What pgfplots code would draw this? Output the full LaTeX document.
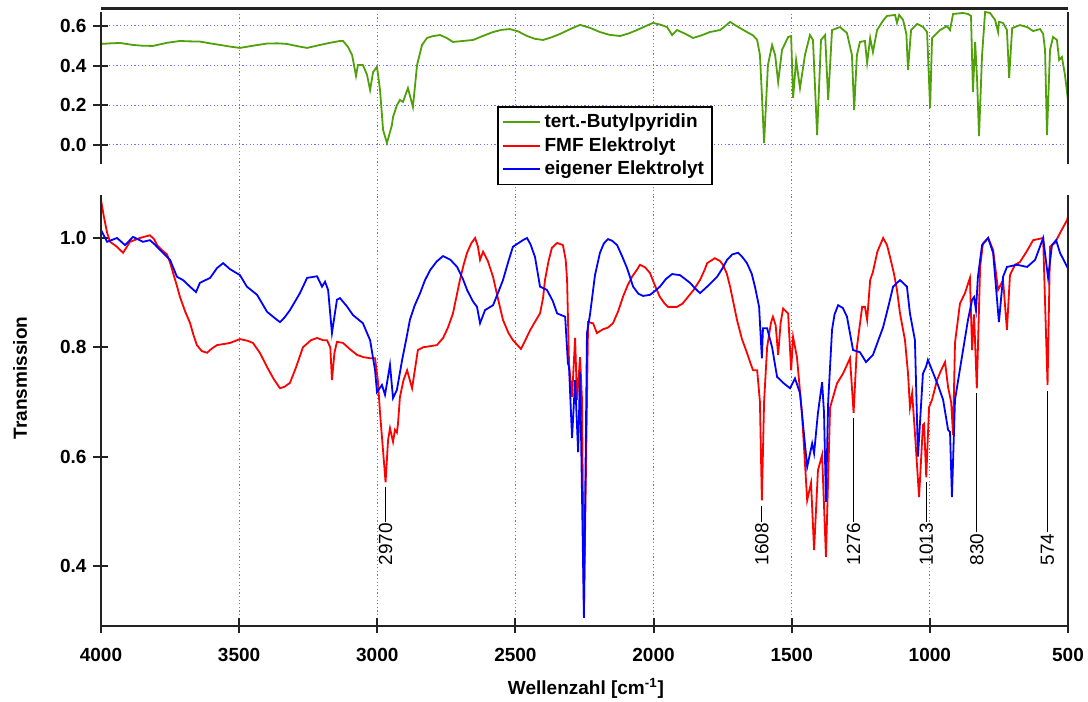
\documentclass[border=0pt]{standalone}
\usepackage{fontspec}
\setmainfont{Liberation Sans}
\usepackage{pgfplots}
\pgfplotsset{compat=1.18}
\definecolor{cgreen}{RGB}{80,160,10}
\definecolor{cgrid}{RGB}{110,110,255}
\definecolor{cspine}{RGB}{35,35,35}
\pgfplotsset{
 common/.style={
  scale only axis, width=483.5pt, x dir=reverse, xmin=500, xmax=4000, clip=false,
  axis line style={draw=none},
  tick align=center, major tick length=7.5pt,
  tick style={cspine, line width=1pt},
  grid style={cgrid, line width=0.5pt, dash pattern=on 0.6pt off 1.2pt},
  /pgf/number format/assume math mode=true,
  ticklabel style={font=\fontsize{9.5}{11}\selectfont\bfseries},
  yticklabel style={/pgf/number format/fixed, /pgf/number format/fixed zerofill, /pgf/number format/precision=1},
  xticklabel style={/pgf/number format/1000 sep={}},
 }
}
\newcommand{\ann}[2]{%
  \node[rotate=90, anchor=west, inner sep=0pt, font=\fontsize{9.5}{11}\selectfont] (a#1) at (axis cs:#1,0.40) {#1};
  \draw[line width=0.5pt] ([yshift=0.5pt]a#1.east) -- (axis cs:#1,#2);
}
\begin{document}
\begin{tikzpicture}
\useasboundingbox (0,0) rectangle (544pt,351pt);
% ---------------- lower panel ----------------
\begin{axis}[common, at={(50.5pt,38pt)}, anchor=south west, height=215.5pt,
  ymin=0.290, ymax=1.0787,
  xtick={500,1000,...,4000}, ytick={0.4,0.6,0.8,1.0},
  xticklabel style={yshift=-4pt},
  xmajorgrids, xtick pos=left, ytick pos=left]
\addplot[red, line width=0.9pt] table {
4000 1.07
3990 1.04
3978 1.01
3967 0.993
3945 0.985
3920 0.973
3905 0.985
3895 0.993
3859 1.0
3823 1.005
3808 0.998
3797 0.987
3780 0.978
3761 0.97
3750 0.955
3739 0.936
3725 0.912
3714 0.892
3695 0.865
3678 0.845
3665 0.822
3653 0.804
3635 0.793
3616 0.79
3598 0.798
3580 0.804
3555 0.806
3533 0.808
3497 0.815
3470 0.812
3450 0.808
3425 0.790
3399 0.764
3375 0.742
3352 0.725
3335 0.728
3316 0.735
3295 0.762
3269 0.80
3240 0.813
3218 0.817
3196 0.813
3182 0.813
3170 0.800
3164 0.74
3155 0.790
3146 0.81
3124 0.808
3100 0.797
3073 0.786
3050 0.782
3026 0.78
3008 0.78
2998 0.74
2990 0.68
2970 0.553
2961 0.63
2954 0.652
2943 0.627
2936 0.649
2929 0.644
2925 0.66
2918 0.709
2905 0.740
2892 0.758
2874 0.725
2853 0.795
2834 0.80
2784 0.804
2762 0.817
2745 0.835
2726 0.862
2701 0.923
2688 0.950
2675 0.973
2660 0.990
2646 1.0
2636 0.985
2628 0.96
2617 0.975
2600 0.958
2581 0.929
2565 0.893
2545 0.85
2525 0.826
2509 0.813
2480 0.797
2465 0.812
2447 0.831
2430 0.846
2411 0.862
2400 0.890
2393 0.923
2380 0.958
2368 0.982
2349 0.991
2328 0.987
2318 0.960
2313 0.923
2306 0.77
2295 0.709
2284 0.817
2277 0.704
2266 0.782
2259 0.704
2252 0.32
2244 0.60
2237 0.846
2219 0.844
2205 0.826
2183 0.833
2165 0.836
2147 0.844
2128 0.866
2111 0.892
2095 0.912
2078 0.929
2060 0.942
2049 0.951
2030 0.946
2013 0.936
1995 0.913
1977 0.892
1960 0.880
1948 0.874
1915 0.874
1895 0.880
1879 0.89
1855 0.905
1832 0.923
1815 0.942
1806 0.954
1778 0.963
1760 0.958
1749 0.951
1735 0.935
1723 0.911
1698 0.85
1680 0.815
1662 0.79
1650 0.772
1640 0.758
1625 0.758
1615 0.70
1608 0.52
1600 0.70
1589 0.80
1575 0.845
1568 0.856
1558 0.840
1549 0.786
1540 0.845
1531 0.871
1513 0.862
1502 0.758
1495 0.819
1481 0.782
1463 0.68
1444 0.52
1430 0.552
1419 0.429
1405 0.575
1390 0.603
1376 0.416
1361 0.69
1336 0.734
1314 0.752
1289 0.78
1276 0.68
1264 0.80
1245 0.874
1235 0.874
1227 0.85
1216 0.923
1206 0.938
1190 0.975
1169 1.0
1155 0.987
1144 0.965
1130 0.935
1119 0.905
1108 0.862
1090 0.813
1079 0.752
1072 0.69
1064 0.716
1054 0.643
1039 0.526
1025 0.658
1021 0.66
1013 0.562
1003 0.69
992 0.704
974 0.74
960 0.757
945 0.773
934 0.727
923 0.70
916 0.64
909 0.808
891 0.88
873 0.899
855 0.927
847 0.795
840 0.86
830 0.725
818 0.947
808 0.99
789 1.0
771 0.978
753 0.905
735 0.923
721 0.832
710 0.932
692 0.951
674 0.956
650 0.975
626 0.996
590 1.0
574 0.731
565 0.984
547 0.991
529 1.009
503 1.033
500 1.04
};
\addplot[blue, line width=0.9pt] table {
4000 1.015
3978 0.993
3942 1.0
3913 0.987
3884 1.002
3848 0.993
3823 0.996
3805 0.988
3786 0.978
3750 0.96
3725 0.929
3703 0.923
3678 0.911
3656 0.901
3642 0.918
3605 0.927
3580 0.945
3558 0.954
3533 0.943
3497 0.932
3472 0.911
3435 0.896
3399 0.865
3375 0.855
3352 0.846
3335 0.855
3316 0.868
3280 0.899
3254 0.927
3218 0.93
3200 0.911
3189 0.92
3178 0.905
3164 0.826
3146 0.887
3135 0.89
3110 0.875
3088 0.859
3052 0.844
3026 0.813
3008 0.758
3001 0.718
2983 0.731
2972 0.713
2954 0.768
2943 0.707
2929 0.722
2910 0.777
2895 0.815
2882 0.85
2865 0.876
2845 0.899
2828 0.922
2809 0.941
2785 0.957
2762 0.967
2735 0.960
2711 0.947
2690 0.925
2675 0.905
2655 0.885
2639 0.874
2628 0.844
2610 0.868
2581 0.877
2565 0.897
2545 0.923
2525 0.958
2509 0.984
2473 0.996
2458 1.0
2445 0.988
2429 0.965
2411 0.911
2386 0.905
2365 0.885
2349 0.862
2320 0.856
2310 0.771
2306 0.764
2295 0.634
2284 0.74
2273 0.608
2266 0.755
2252 0.305
2241 0.826
2230 0.86
2212 0.932
2194 0.973
2180 0.990
2165 0.998
2150 0.995
2132 0.987
2115 0.968
2096 0.945
2074 0.911
2055 0.898
2038 0.894
2013 0.896
1995 0.903
1977 0.911
1955 0.925
1933 0.934
1904 0.932
1868 0.918
1850 0.908
1832 0.899
1806 0.911
1770 0.929
1750 0.945
1734 0.96
1715 0.970
1694 0.973
1680 0.966
1662 0.954
1645 0.935
1633 0.911
1618 0.874
1608 0.78
1604 0.835
1589 0.835
1571 0.80
1553 0.746
1531 0.735
1506 0.725
1488 0.743
1470 0.716
1444 0.581
1426 0.624
1419 0.606
1405 0.68
1390 0.736
1383 0.68
1376 0.517
1368 0.70
1354 0.832
1345 0.860
1332 0.877
1315 0.872
1300 0.856
1278 0.795
1253 0.791
1231 0.773
1206 0.786
1190 0.808
1169 0.837
1150 0.875
1133 0.911
1108 0.923
1083 0.911
1072 0.862
1054 0.813
1043 0.60
1025 0.752
1014 0.764
1007 0.777
992 0.758
970 0.730
952 0.704
934 0.649
927 0.645
920 0.526
909 0.704
884 0.782
862 0.85
847 0.887
840 0.892
833 0.868
826 0.929
811 0.987
789 1.0
771 0.973
750 0.846
735 0.929
721 0.947
684 0.951
648 0.947
619 0.96
590 1.0
572 0.927
558 0.987
543 0.996
529 0.973
503 0.947
500 0.945
};
\draw[cspine, line width=1pt] (rel axis cs:0,1) -- (rel axis cs:0,0) -- (rel axis cs:1,0) -- (rel axis cs:1,1);
\ann{2970}{0.545}
\ann{1608}{0.51}
\ann{1276}{0.67}
\ann{1013}{0.553}
\ann{830}{0.716}
\ann{574}{0.72}
\end{axis}
% ---------------- upper panel ----------------
\begin{axis}[common, at={(50.5pt,253.5pt)}, anchor=south west, height=91.5pt,
  ymin=-0.2519, ymax=0.670,
  xtick={1000,1500,...,3500}, xticklabels={}, xtick style={draw=none},
  ytick={0,0.2,0.4,0.6},
  xmajorgrids, ymajorgrids, ytick pos=left,
  legend style={at={(0.4095,0.4863)}, anchor=north west, draw=black, line width=0.8pt,
    font=\fontsize{9.5}{10.75}\selectfont\bfseries, inner xsep=2pt, inner ysep=1.5pt,
    cells={anchor=west}, row sep=-0.6pt},
  legend image code/.code={\draw[#1, line width=0.9pt] (0pt,0pt) -- (18.5pt,0pt);}]
\addplot[cgreen, line width=0.9pt] table {
4000 0.509
3965 0.512
3931 0.514
3884 0.504
3850 0.500
3812 0.499
3760 0.515
3714 0.524
3680 0.522
3642 0.521
3605 0.512
3569 0.504
3530 0.495
3497 0.489
3450 0.500
3399 0.511
3360 0.512
3327 0.509
3290 0.498
3254 0.489
3207 0.504
3170 0.515
3135 0.524
3124 0.524
3106 0.494
3091 0.453
3077 0.348
3070 0.403
3052 0.403
3037 0.353
3026 0.277
3015 0.368
3001 0.393
2990 0.277
2979 0.076
2965 0.01
2947 0.10
2943 0.141
2929 0.2
2918 0.227
2907 0.217
2889 0.287
2871 0.191
2856 0.403
2838 0.504
2820 0.539
2800 0.548
2773 0.554
2750 0.540
2726 0.519
2690 0.524
2653 0.529
2620 0.548
2581 0.569
2550 0.580
2520 0.584
2490 0.572
2458 0.549
2430 0.535
2400 0.529
2370 0.542
2339 0.559
2300 0.585
2266 0.605
2230 0.590
2194 0.569
2160 0.555
2121 0.549
2090 0.562
2060 0.579
2030 0.598
2002 0.615
1975 0.606
1951 0.594
1933 0.554
1915 0.579
1885 0.560
1857 0.539
1825 0.553
1796 0.569
1759 0.579
1740 0.600
1723 0.62
1712 0.61
1687 0.589
1662 0.569
1640 0.552
1625 0.529
1615 0.453
1607 0.227
1600 0.01
1586 0.403
1571 0.504
1560 0.453
1549 0.317
1535 0.479
1513 0.544
1502 0.549
1495 0.237
1484 0.428
1470 0.287
1452 0.453
1434 0.554
1423 0.529
1408 0.05
1394 0.529
1379 0.554
1368 0.227
1354 0.579
1325 0.594
1300 0.564
1282 0.453
1274 0.176
1264 0.453
1253 0.519
1235 0.524
1227 0.413
1216 0.539
1206 0.468
1191 0.579
1170 0.625
1155 0.65
1126 0.655
1119 0.615
1111 0.655
1097 0.63
1085 0.560
1079 0.378
1068 0.579
1046 0.61
1025 0.595
1010 0.569
999 0.186
992 0.539
963 0.579
938 0.599
927 0.579
916 0.66
880 0.665
862 0.66
851 0.65
844 0.267
836 0.519
829 0.327
822 0.045
811 0.453
800 0.67
782 0.665
764 0.63
753 0.569
750 0.62
735 0.615
721 0.579
713 0.338
702 0.589
674 0.604
648 0.594
626 0.574
601 0.584
590 0.560
583 0.479
576 0.05
565 0.479
554 0.544
540 0.529
532 0.428
522 0.443
511 0.353
500 0.227
};
\addlegendentry{tert.-Butylpyridin}
\addlegendimage{red}
\addlegendentry{FMF Elektrolyt}
\addlegendimage{blue}
\addlegendentry{eigener Elektrolyt}
\draw[cspine, line width=1pt] (axis cs:4000,-0.0957) -- (axis cs:4000,0.670);
\draw[cspine, line width=1pt] (axis cs:500,-0.0957) -- (axis cs:500,0.670);
\draw[cspine, line width=1.2pt] (axis cs:4000,0.687) -- (axis cs:500,0.687);
\end{axis}
\node[rotate=90, font=\fontsize{9.5}{11}\selectfont\bfseries] at (10pt,162pt) {Transmission};
\node[anchor=base, font=\fontsize{9.5}{11}\selectfont\bfseries] at (293pt,3.5pt) {Wellenzahl [cm\textsuperscript{-1}]};
\end{tikzpicture}
\end{document}
